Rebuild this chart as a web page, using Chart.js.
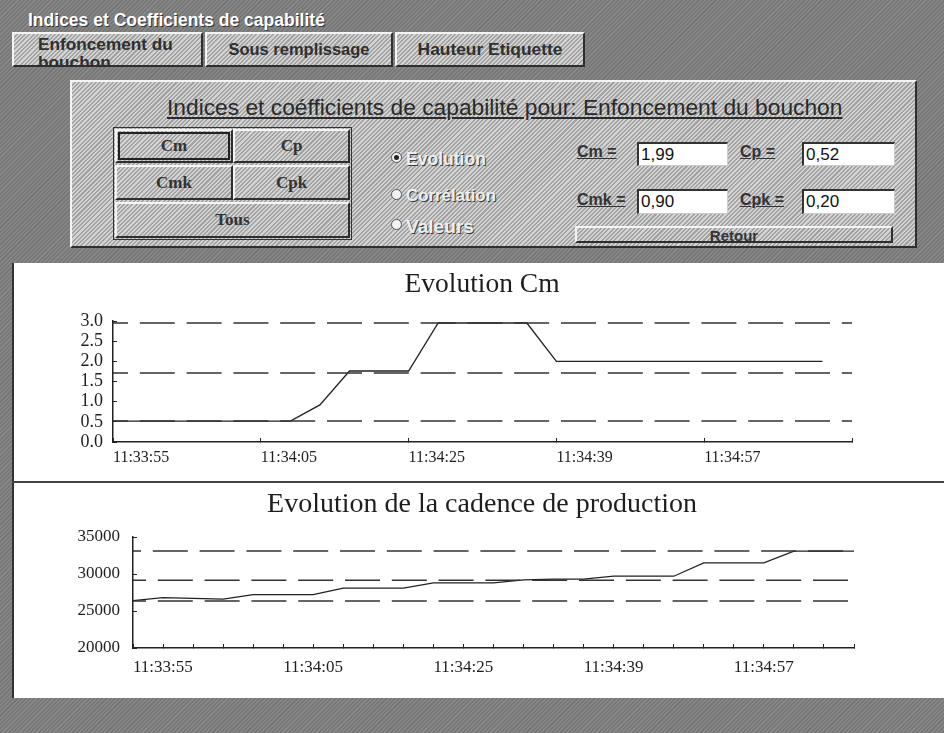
<!DOCTYPE html>
<html><head><meta charset="utf-8">
<script src="https://cdn.jsdelivr.net/npm/chart.js@4.4.1/dist/chart.umd.min.js"></script>
<style>
html,body{margin:0;padding:0;}
body{width:944px;height:733px;position:relative;overflow:hidden;
  background:repeating-linear-gradient(135deg,#878787 0 1.5px,#767676 1.5px 3px);
  font-family:Arial,'Liberation Sans',sans-serif;}
.abs{position:absolute;}
.hatch{background:repeating-linear-gradient(135deg,#d4d4d4 0 1.5px,#a2a2a2 1.5px 3px);}
.raised{box-sizing:border-box;border-top:2px solid #f4f4f4;border-left:2px solid #f4f4f4;border-right:2px solid #2e2e2e;border-bottom:2px solid #2e2e2e;}
.txt{white-space:nowrap;display:inline-block;}
.dark{color:#2f2f2f;font-weight:bold;}
.btn{display:flex;align-items:center;justify-content:center;font-family:'Liberation Serif',serif;font-weight:bold;font-size:17px;color:#333;}
.box{box-sizing:border-box;background:#fff;border-top:2px solid #333;border-left:2px solid #333;border-right:1px solid #ccc;border-bottom:1px solid #ccc;font-size:17px;color:#111;padding-left:2px;line-height:21px;}
.lbl{color:#333;font-weight:bold;text-decoration:underline;font-size:16px;}
.radio{width:11px;height:11px;border-radius:50%;background:#f2f2f2;border:1px solid #555;box-sizing:border-box;}
.rtxt{color:#eeeeee;font-weight:bold;font-size:14px;text-shadow:1px 1px 0 #3a3a3a;}
</style></head>
<body>
<div class="abs txt" id="ttl" style="left:28px;top:10px;color:#fff;font-weight:bold;font-size:15px;text-shadow:1px 1px 0 #333;">Indices et Coefficients de capabilité</div>

<div class="abs hatch raised" style="left:12px;top:32px;width:191px;height:35px;overflow:hidden;">
  <div class="abs dark" id="t1" style="left:24px;top:1px;font-size:15px;line-height:18px;"><span class="txt" id="t1a">Enfoncement du</span><br>bouchon</div>
</div>
<div class="abs hatch raised" style="left:205px;top:32px;width:188px;height:35px;display:flex;align-items:center;justify-content:center;">
  <span class="txt dark" id="t2" style="font-size:14px;">Sous remplissage</span></div>
<div class="abs hatch raised" style="left:395px;top:32px;width:190px;height:35px;display:flex;align-items:center;justify-content:center;">
  <span class="txt dark" id="t3" style="font-size:14px;">Hauteur Etiquette</span></div>

<div class="abs hatch raised" style="left:70px;top:80px;width:847px;height:168px;"></div>
<div class="abs txt" id="ptitle" style="left:167px;top:94px;font-size:18px;color:#2a2a2a;text-decoration:underline;">Indices et coéfficients de capabilité pour: Enfoncement du bouchon</div>

<div class="abs" style="left:113px;top:127px;width:239px;height:113px;border:1px solid #333;box-sizing:border-box;"></div>
<div class="abs hatch raised btn" style="left:115px;top:129px;width:118px;height:34px;outline:2px solid #222;outline-offset:-5px;">Cm</div>
<div class="abs hatch raised btn" style="left:233px;top:129px;width:117px;height:34px;">Cp</div>
<div class="abs hatch raised btn" style="left:115px;top:165px;width:118px;height:35px;">Cmk</div>
<div class="abs hatch raised btn" style="left:233px;top:165px;width:117px;height:35px;">Cpk</div>
<div class="abs hatch raised btn" style="left:115px;top:202px;width:235px;height:36px;">Tous</div>

<div class="abs radio" style="left:391px;top:152px;"><div style="width:5px;height:5px;border-radius:50%;background:#222;margin:2px;"></div></div>
<div class="abs txt rtxt" id="r1" style="left:406px;top:149px;">Evolution</div>
<div class="abs radio" style="left:391px;top:189px;"></div>
<div class="abs txt rtxt" id="r2" style="left:406px;top:186px;">Corrélation</div>
<div class="abs radio" style="left:391px;top:219px;"></div>
<div class="abs txt rtxt" id="r3" style="left:406px;top:216px;">Valeurs</div>

<div class="abs txt lbl" style="left:577px;top:143px;">Cm =</div>
<div class="abs box" style="left:637px;top:142px;width:91px;height:24px;">1,99</div>
<div class="abs txt lbl" style="left:740px;top:143px;">Cp =</div>
<div class="abs box" style="left:802px;top:142px;width:93px;height:24px;">0,52</div>
<div class="abs txt lbl" style="left:577px;top:191px;">Cmk =</div>
<div class="abs box" style="left:637px;top:189px;width:91px;height:25px;">0,90</div>
<div class="abs txt lbl" style="left:740px;top:191px;">Cpk =</div>
<div class="abs box" style="left:802px;top:189px;width:93px;height:25px;">0,20</div>
<div class="abs hatch raised" style="left:575px;top:226px;width:318px;height:17px;overflow:hidden;">
  <div style="text-align:center;font-weight:bold;color:#333;font-size:15px;line-height:15px;margin-top:0px;">Retour</div></div>

<div class="abs" style="left:12px;top:263px;width:932px;height:435px;background:#fff;border-left:2px solid #333;box-sizing:border-box;"></div>
<div class="abs" style="left:12px;top:481px;width:932px;height:2px;background:#444;"></div>

<div class="abs" style="left:20px;top:263px;width:924px;height:218px;"><canvas id="c1" width="924" height="218"></canvas></div>
<div class="abs" style="left:20px;top:483px;width:924px;height:209px;"><canvas id="c2" width="924" height="209"></canvas></div>

<script>
// ---- data ----
const timeLabels = ['11:33:55','11:34:05','11:34:25','11:34:39','11:34:57'];
const sampleIndex = [0,1,2,3,4,5,6,7,8,9,10,11,12,13,14,15,16,17,18,19,20,21,22,23,24];
const cmValues = [0.52,0.52,0.52,0.52,0.52,0.52,0.52,0.92,1.76,1.76,1.76,2.95,2.95,2.95,2.95,2.0,2.0,2.0,2.0,2.0,2.0,2.0,2.0,2.0,2.0];
const cmLimits = [0.52,1.71,2.95];
const cadenceValues = [26400,26800,26700,26600,27200,27200,27200,28100,28100,28100,28800,28800,28800,29200,29300,29300,29700,29700,29700,31500,31500,31500,33100,33100,33100];
const cadenceLimits = [26350,29150,33100];
const cmAxisTicks = [0,0.5,1.0,1.5,2.0,2.5,3.0];
const cadenceAxisTicks = [20000,25000,30000,35000];

// ---- text fitting for the dialog controls ----
function fit(id,w){const el=document.getElementById(id);const fs=parseFloat(getComputedStyle(el).fontSize);const cur=el.getBoundingClientRect().width;el.style.fontSize=(fs*w/cur)+'px';}
fit('ttl',297);fit('t2',141);fit('t3',145);fit('ptitle',676);
fit('r1',80);fit('r2',90);fit('r3',68);
(function(){const a=document.getElementById('t1a');const w=a.getBoundingClientRect().width;const t=document.getElementById('t1');t.style.fontSize=(15*135/w)+'px';})();

const ink='#222';
function limitSets(limits,xMax,offsets){
  return limits.map((v,i)=>({data:[{x:0,y:v},{x:xMax,y:v}],borderColor:'#333',borderWidth:1.6,borderDash:[35,11.8],borderDashOffset:offsets[i],pointRadius:0,tension:0}));
}
function mainSet(vals){
  return {data:sampleIndex.map((x,i)=>({x:x,y:vals[i]})),borderColor:ink,borderWidth:1.3,pointRadius:0,tension:0};
}
function opts(cfg){
  return {
    responsive:false,animation:false,
    layout:{padding:0},
    plugins:{legend:{display:false},tooltip:{enabled:false},
      title:{display:true,text:cfg.title,color:'#1e1e1e',font:{family:"'Liberation Serif','Times New Roman',serif",size:cfg.titleSize,weight:'normal'},padding:{top:5,bottom:cfg.titleBottom}}},
    scales:{
      x:{type:'linear',min:0,max:cfg.xMax,
        afterBuildTicks:s=>{s.ticks=cfg.xTicks.map(v=>({value:v}));},
        afterFit:s=>{s.height=cfg.xH;},
        border:{color:ink,width:1.5},
        grid:{drawOnChartArea:false,color:ink,tickLength:-4,lineWidth:1},
        ticks:{autoSkip:false,maxRotation:0,align:'start',padding:cfg.xPad,color:'#1e1e1e',
          font:{family:cfg.font,size:cfg.xSize},
          callback:v=>cfg.xLabel(v)}},
      y:{type:'linear',min:cfg.yTicks[0],max:cfg.yTicks[cfg.yTicks.length-1],
        afterBuildTicks:s=>{s.ticks=cfg.yTicks.map(v=>({value:v}));},
        afterFit:s=>{s.width=cfg.yW;},
        border:{color:ink,width:1.5},
        grid:{drawOnChartArea:false,color:ink,tickLength:-4,lineWidth:1},
        ticks:{autoSkip:false,padding:cfg.yPad,color:'#1e1e1e',font:{family:cfg.font,size:cfg.ySize},callback:cfg.yLabel}},
      yR:{type:'linear',position:'right',display:true,
        afterFit:s=>{s.width=cfg.padRight;},
        border:{display:false},grid:{display:false},ticks:{display:false}}
    }
  };
}
const c1x=[0,5,10,15,20,25];
new Chart(document.getElementById('c1'),{type:'line',
  data:{datasets:[...limitSets(cmLimits,25,[20,20,20]),mainSet(cmValues)]},
  options:opts({title:'Evolution Cm',titleSize:27.5,titleBottom:20,padRight:92,xMax:25,xTicks:c1x,xH:39,xPad:10,xSize:16,
    xLabel:v=>timeLabels[v/5]||'',yTicks:cmAxisTicks,yW:93,yPad:14,ySize:18,yLabel:v=>Number(v).toFixed(1),
    font:"'Liberation Serif','Times New Roman',serif"})
});
new Chart(document.getElementById('c2'),{type:'line',
  data:{datasets:[...limitSets(cadenceLimits,24,[22,22,27]),mainSet(cadenceValues)]},
  options:opts({title:'Evolution de la cadence de production',titleSize:28,titleBottom:15.4,padRight:90,xMax:24,xTicks:sampleIndex,xH:44,xPad:13,xSize:17,
    xLabel:v=>(v%5===0?timeLabels[v/5]:'')||'',yTicks:cadenceAxisTicks,yW:113,yPad:17,ySize:17,yLabel:v=>String(v),
    font:"'Liberation Serif','Times New Roman',serif"})
});
</script>
</body></html>
